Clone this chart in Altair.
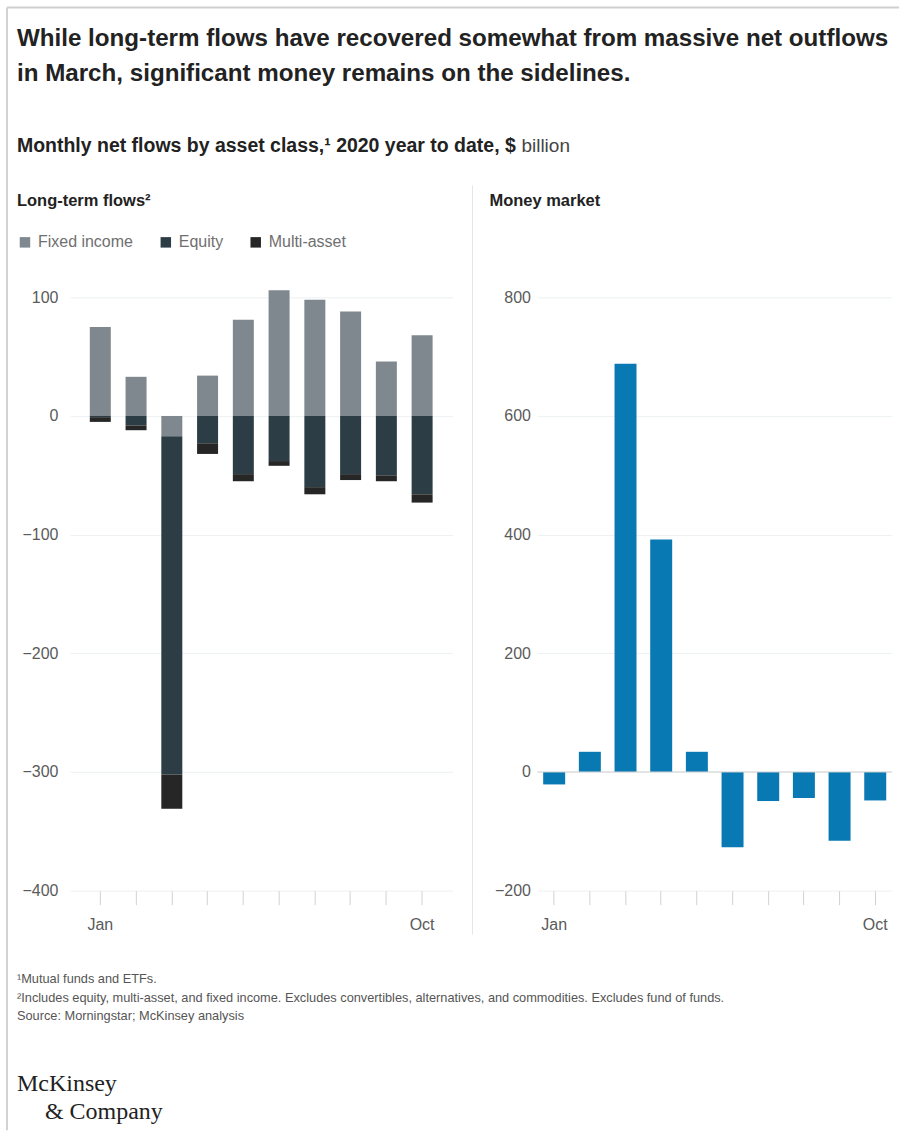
import altair as alt
import pandas as pd

# ---------------- data ----------------
months = ["Jan", "Feb", "Mar", "Apr", "May", "Jun", "Jul", "Aug", "Sep", "Oct"]
fixed_income = [75, 33, -17, 34, 81, 106, 98, 88, 46, 68]
equity = [-1, -8, -285, -23, -49, -38, -60, -49, -50, -66]
multi_asset = [-4, -4, -29, -9, -6, -4, -6, -5, -5, -7]
money_market = [-21, 34, 688, 392, 34, -127, -49, -44, -116, -48]

asset_classes = ["Fixed income", "Equity", "Multi-asset"]
asset_colors = ["#7e888e", "#2c3d45", "#262626"]
mm_color = "#0879b3"

left_ticks = [-400, -300, -200, -100, 0, 100]
right_ticks = [-200, 0, 200, 400, 600, 800]

title_lines = [
    "While long-term flows have recovered somewhat from massive net outflows",
    "in March, significant money remains on the sidelines.",
]
subtitle_bold = "Monthly net flows by asset class,\u00b9 2020 year to date, $"
subtitle_regular = "billion"
left_panel_title = "Long-term flows\u00b2"
right_panel_title = "Money market"
footnotes = [
    "\u00b9Mutual funds and ETFs.",
    "\u00b2Includes equity, multi-asset, and fixed income. Excludes convertibles, alternatives, and commodities. Excludes fund of funds.",
    " Source: Morningstar; McKinsey analysis",
]
logo_lines = ["McKinsey", "& Company"]

SANS = "Liberation Sans, Arial, sans-serif"
SERIF = "Liberation Serif, Times New Roman, serif"

label_expr = "datum.value == 'Jan' || datum.value == 'Oct' ? datum.value : ''"

rows = []
for i, m in enumerate(months):
    for k, (name, vals) in enumerate(zip(asset_classes, [fixed_income, equity, multi_asset])):
        rows.append({"month": m, "asset": name, "value": vals[i], "order": k})
long_df = pd.DataFrame(rows)
mm_df = pd.DataFrame({"month": months, "value": money_market})

one = pd.DataFrame({"a": [0]})


def txt(text, x, y, size, weight="normal", color="#222222", font=SANS, line_height=None):
    kw = dict(align="left", baseline="alphabetic", fontSize=size, fontWeight=weight,
              color=color, font=font)
    if line_height is not None:
        kw["lineHeight"] = line_height
    return alt.Chart(one).mark_text(text=text, **kw).encode(x=alt.value(x), y=alt.value(y))


def x_axis():
    return alt.Axis(title=None, labelExpr=label_expr, labelAngle=0, tickSize=14,
                    tickColor="#d2d2d2", tickWidth=1, domain=False, labelPadding=12,
                    labelFontSize=16, labelColor="#5a5a5a", labelFont=SANS, grid=False)


def y_axis(values, pad):
    return alt.Axis(title=None, values=values, ticks=False, domain=False, grid=True,
                    gridColor="#edf1f3", gridWidth=1, labelPadding=pad, labelFontSize=16,
                    labelColor="#5a5a5a", labelFont=SANS, format="d")


# ---------------- left panel ----------------
bars_left = alt.Chart(long_df).mark_bar().encode(
    x=alt.X("month:N", sort=months,
            scale=alt.Scale(paddingInner=0.413, paddingOuter=0.556), axis=x_axis()),
    y=alt.Y("value:Q", stack="zero", scale=alt.Scale(domain=[-400, 100], nice=False),
            axis=y_axis(left_ticks, 12)),
    color=alt.Color("asset:N", scale=alt.Scale(domain=asset_classes, range=asset_colors),
                    legend=alt.Legend(orient="none", legendX=-53, legendY=-63,
                                      direction="horizontal", title=None,
                                      symbolType="square", symbolSize=110,
                                      symbolStrokeWidth=0, labelFontSize=16,
                                      labelColor="#6f6f6f", labelFont=SANS,
                                      columnPadding=24, labelOffset=5)),
    order=alt.Order("order:Q"),
)

frame_left = alt.Chart(one).mark_rule(color="#c4c4c4", strokeWidth=1.5).encode(
    x=alt.value(-63), y=alt.value(-290), y2=alt.value(834))
frame_top = alt.Chart(one).mark_rule(color="#cfcfcf", strokeWidth=2).encode(
    x=alt.value(-63), x2=alt.value(830), y=alt.value(-290))
separator = alt.Chart(one).mark_rule(color="#e4e7e9", strokeWidth=1).encode(
    x=alt.value(403), y=alt.value(-112), y2=alt.value(638))

left = alt.layer(
    frame_left, frame_top, separator, bars_left,
    txt(title_lines, -53, -252, 24.2, "bold", line_height=35),
    txt(subtitle_bold, -53, -145, 19.5, "bold"),
    txt(subtitle_regular, 452, -145, 19, "normal", color="#444444"),
    txt(left_panel_title, -53, -91, 16.5, "bold"),
    txt(footnotes[0], -53, 686, 12.8, color="#555555"),
    txt(footnotes[1], -53, 705, 12.8, color="#555555"),
    txt(footnotes[2], -53, 724, 12.8, color="#555555"),
    txt(logo_lines[0], -53, 795, 24, color="#222222", font=SERIF),
    txt(logo_lines[1], -25, 823, 24, color="#222222", font=SERIF),
).properties(width=383, height=594)

# ---------------- right panel ----------------
zero_right = alt.Chart(pd.DataFrame({"v": [0]})).mark_rule(color="#cfcfcf").encode(y="v:Q")
bars_right = alt.Chart(mm_df).mark_bar(color=mm_color).encode(
    x=alt.X("month:N", sort=months,
            scale=alt.Scale(paddingInner=0.384, paddingOuter=0.162), axis=x_axis()),
    y=alt.Y("value:Q", scale=alt.Scale(domain=[-200, 800], nice=False),
            axis=y_axis(right_ticks, 7)),
)
right = alt.layer(
    bars_right, zero_right,
    txt(right_panel_title, -48, -91, 16.5, "bold"),
).resolve_scale(y="shared").properties(width=355, height=594)

chart = alt.hconcat(left, right, spacing=85, bounds="flush").resolve_scale(
    x="independent", y="independent", color="independent"
).resolve_legend(color="independent").properties(
    padding={"left": 6, "top": 6, "right": 0, "bottom": 0},
    background="white",
).configure_view(stroke=None)

chart.save("out.html", embed_options={"renderer": "svg", "actions": False})
